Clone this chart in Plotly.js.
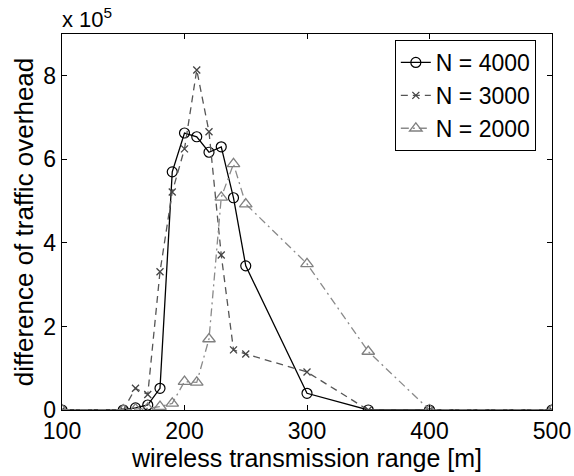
<!DOCTYPE html>
<html>
<head>
<meta charset="utf-8">
<script src="https://cdn.plot.ly/plotly-3.0.1.min.js"></script>
<style>html,body{margin:0;padding:0;background:#fff;}#chart{width:574px;height:476px;}</style>
</head>
<body>
<div id="chart"></div>
<script>
// wireless transmission range [m]
const rangeM = [100,150,160,170,180,190,200,210,220,230,240,250,300,350,400,500];
// difference of traffic overhead, in units of 1e5
const n4000 = [0,0,0.05,0.12,0.52,5.70,6.63,6.54,6.17,6.30,5.08,3.45,0.40,0,0,0];
const n3000 = [0,0,0.52,0.37,3.31,5.22,6.25,8.14,6.66,3.71,1.44,1.34,0.91,0,0,0];
const n2000 = [0,0,0.02,0.04,0.08,0.16,0.68,0.66,1.70,5.09,5.89,4.93,3.50,1.40,0,0];
const seriesNames = ['N = 4000','N = 3000','N = 2000'];
const xTicks = [100,200,300,400,500];
const yTicks = [0,2,4,6,8];

const fam = 'Liberation Sans, Arial, sans-serif';
const tickFont = {family:fam, size:23, color:'#000'};
const titleFont = {family:fam, size:25, color:'#000'};

const traces = [
  {x:rangeM, y:n4000, name:seriesNames[0], mode:'lines+markers',
   line:{color:'#000', width:1.3},
   marker:{symbol:'circle-open', size:10, color:'#000', line:{width:1.2}}},
  {x:rangeM, y:n3000, name:seriesNames[1], mode:'lines+markers',
   line:{color:'#555', width:1.3, dash:'7px,5px'},
   marker:{symbol:'x-thin-open', size:7, color:'#444', line:{width:1.3}}},
  {x:rangeM, y:n2000, name:seriesNames[2], mode:'lines+markers',
   line:{color:'#8a8a8a', width:1.3, dash:'8px,4px,2px,4px'},
   marker:{symbol:'triangle-up-open', size:11, color:'#808080', line:{width:1.3}}}
];

const layout = {
  width:574, height:476,
  margin:{l:62, r:22, t:34, b:66},
  paper_bgcolor:'#fff', plot_bgcolor:'#fff',
  font:tickFont,
  showlegend:true,
  legend:{x:0.967, y:0.984, xanchor:'right', yanchor:'top',
    bordercolor:'#000', borderwidth:1, bgcolor:'#fff',
    font:{family:fam, size:23, color:'#000'}, tracegroupgap:0},
  xaxis:{range:[100,500], tickvals:xTicks, ticks:'inside', ticklen:5, tickcolor:'#000',
    showgrid:false, zeroline:false, showline:true, linecolor:'#000', linewidth:1.3,
    mirror:'ticks', tickfont:tickFont,
    title:{text:'wireless transmission range [m]', font:titleFont, standoff:0}},
  yaxis:{range:[0,9], tickvals:yTicks, ticks:'inside', ticklen:5, tickcolor:'#000',
    showgrid:false, zeroline:false, showline:true, linecolor:'#000', linewidth:1.3,
    mirror:'ticks', tickfont:tickFont,
    title:{text:'difference of traffic overhead', font:{family:fam, size:26, color:'#000'}, standoff:2}},
  annotations:[{xref:'paper', yref:'paper', x:0, y:1, xanchor:'left', yanchor:'bottom',
    text:'x 10<sup>5</sup>', showarrow:false, font:{family:fam, size:22, color:'#000'}, xshift:-2, yshift:0}]
};

Plotly.newPlot('chart', traces, layout, {displayModeBar:false, staticPlot:true});
</script>
</body>
</html>
